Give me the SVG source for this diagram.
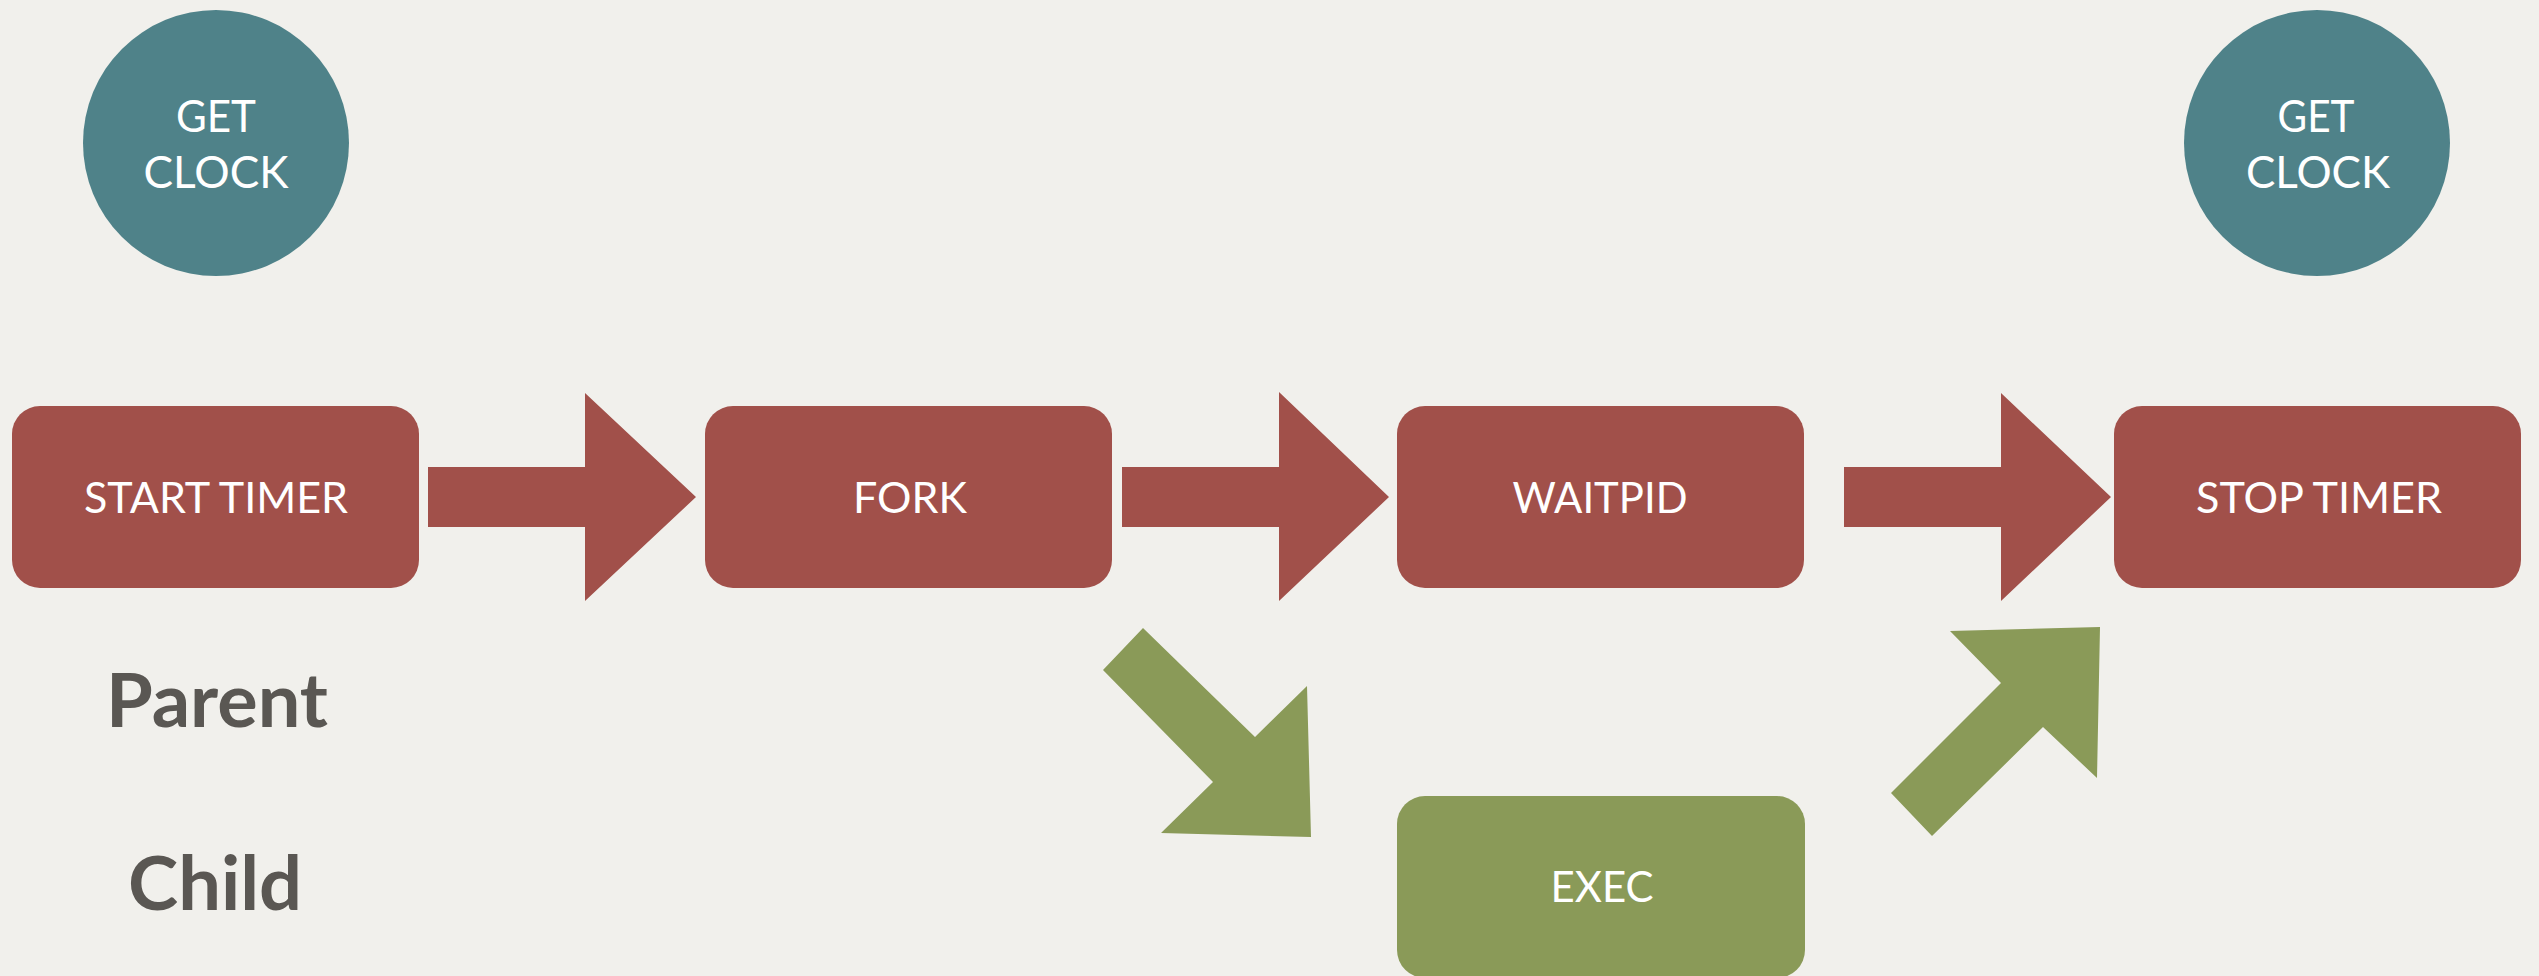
<svg xmlns="http://www.w3.org/2000/svg" width="2539" height="976" viewBox="0 0 2539 976">
  <style>
    .bg { fill: #f1f0ec; }
    .red { fill: #a1504a; }
    .teal { fill: #4f8289; }
    .green { fill: #8a9a58; }
    .lbl { fill: #ffffff; font-family: Lato, "Noto Sans", "Liberation Sans", sans-serif; font-size: 42px; text-anchor: middle; }
    .clk { font-size: 45px; }
    .side { fill: #5a5753; font-family: Lato, "Noto Sans", "Liberation Sans", sans-serif; font-weight: bold; font-size: 75px; text-anchor: middle; }
  </style>
  <rect class="bg" x="0" y="0" width="2539" height="976"/>

  <g id="clock-start">
    <circle class="teal" cx="216" cy="143" r="133"/>
    <text class="lbl clk" x="216" y="132" textLength="80" lengthAdjust="spacingAndGlyphs">GET</text>
    <text class="lbl clk" x="216" y="188" textLength="145" lengthAdjust="spacingAndGlyphs">CLOCK</text>
  </g>
  <g id="clock-stop">
    <circle class="teal" cx="2317" cy="143" r="133"/>
    <text class="lbl clk" x="2316" y="132" textLength="77" lengthAdjust="spacingAndGlyphs">GET</text>
    <text class="lbl clk" x="2318" y="188" textLength="144" lengthAdjust="spacingAndGlyphs">CLOCK</text>
  </g>

  <g id="start-timer">
    <rect class="red" x="12" y="406" width="407" height="182" rx="28"/>
    <text class="lbl" x="216" y="513" textLength="264" lengthAdjust="spacingAndGlyphs">START TIMER</text>
  </g>
  <g id="fork">
    <rect class="red" x="705" y="406" width="407" height="182" rx="28"/>
    <text class="lbl" x="910" y="513" textLength="114" lengthAdjust="spacingAndGlyphs">FORK</text>
  </g>
  <g id="waitpid">
    <rect class="red" x="1397" y="406" width="407" height="182" rx="28"/>
    <text class="lbl" x="1600" y="513" textLength="175" lengthAdjust="spacingAndGlyphs">WAITPID</text>
  </g>
  <g id="stop-timer">
    <rect class="red" x="2114" y="406" width="407" height="182" rx="28"/>
    <text class="lbl" x="2319" y="513" textLength="246" lengthAdjust="spacingAndGlyphs">STOP TIMER</text>
  </g>
  <g id="exec">
    <rect class="green" x="1397" y="796" width="408" height="182" rx="28"/>
    <text class="lbl" x="1602" y="902" textLength="103" lengthAdjust="spacingAndGlyphs">EXEC</text>
  </g>

  <g id="label-parent">
    <text class="side" x="217" y="727" textLength="222" lengthAdjust="spacingAndGlyphs">Parent</text>
  </g>
  <g id="label-child">
    <text class="side" x="215" y="910" textLength="174" lengthAdjust="spacingAndGlyphs">Child</text>
  </g>

  <g id="connectors">
    <polygon class="red" points="428,467 585,467 585,393 696,497 585,601 585,527 428,527"/>
    <polygon class="red" points="1122,467 1279,467 1279,392 1389,497 1279,601 1279,527 1122,527"/>
    <polygon class="red" points="1844,467 2001,467 2001,393 2111,497 2001,601 2001,527 1844,527"/>
    <polygon class="green" points="1143,628 1255,737 1307,686 1311,837 1161,833 1213,782 1103,670"/>
    <polygon class="green" points="1950,631 2100,627 2097,778 2043,727 1932,836 1891,793 2001,683"/>
  </g>
</svg>
